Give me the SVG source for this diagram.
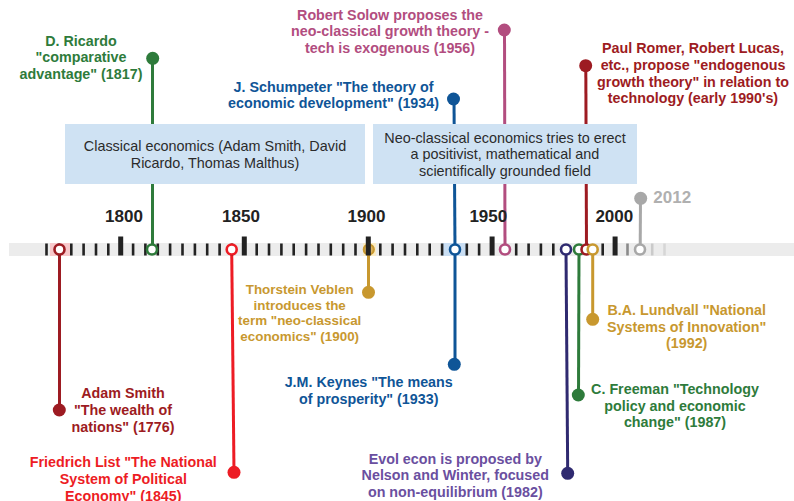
<svg xmlns="http://www.w3.org/2000/svg" width="794" height="501" viewBox="0 0 794 501">
  <style>
    .lbl { font-family: "Liberation Sans", Arial, sans-serif; font-weight: bold; font-size: 14.3px; text-anchor: middle; }
    .box { fill: #cfe2f3; }
    .boxtxt { font-family: "Liberation Sans", Arial, sans-serif; font-size: 14.4px; fill: #2b2b2b; text-anchor: middle; }
    .year { font-family: "Liberation Sans", Arial, sans-serif; font-weight: bold; font-size: 17px; fill: #222; text-anchor: middle; }
    .tick { fill: #222; }
    .ring { fill: #fff; stroke-width: 2.6; }
    .conn { stroke-width: 3; fill: none; }
    .green { fill: #2e7b3b; } .s-green { stroke: #2e7b3b; }
    .pink { fill: #b24d7f; } .s-pink { stroke: #b24d7f; }
    .blue { fill: #0f5597; } .s-blue { stroke: #0f5597; }
    .dred { fill: #9d1b22; } .s-dred { stroke: #9d1b22; }
    .red { fill: #ed1c24; } .s-red { stroke: #ed1c24; }
    .gold { fill: #c8982f; } .s-gold { stroke: #c8982f; }
    .purple { fill: #2f2a70; } .s-purple { stroke: #2f2a70; }
    .ptxt { fill: #6a4fa0; }
    .gray { fill: #a8a8a8; } .s-gray { stroke: #a8a8a8; }
  </style>

  <!-- timeline bar and period highlights -->
  <g id="timeline-bar">
    <rect x="9" y="243" width="785" height="13" fill="#ececec"/>
    <rect x="50" y="243" width="20" height="13" fill="#f7c8cb"/>
    <rect x="363" y="243" width="13" height="13" fill="#fbecc4"/>
    <rect x="441.7" y="243" width="25" height="13" fill="#c9def3"/>
  </g>

  <!-- connectors from the bar to each event -->
  <g id="connectors">
    <line class="conn s-dred" x1="59.5" y1="250" x2="59.5" y2="410"/>
    <line class="conn s-green" x1="152.5" y1="58" x2="152.5" y2="249"/>
    <line class="conn s-red" x1="231.7" y1="250" x2="234" y2="472"/>
    <line class="conn s-gold" x1="368.5" y1="250" x2="368.5" y2="292"/>
    <line class="conn s-blue" x1="455" y1="250" x2="455" y2="364"/>
    <line class="conn s-blue" x1="454" y1="99" x2="455" y2="249"/>
    <line class="conn s-pink" x1="504.5" y1="30" x2="505" y2="249"/>
    <line class="conn s-purple" x1="566" y1="250" x2="567.7" y2="473"/>
    <line class="conn s-green" x1="579" y1="250" x2="578.5" y2="395"/>
    <line class="conn s-dred" x1="585.8" y1="65" x2="586.5" y2="249"/>
    <line class="conn s-gold" x1="592.7" y1="250" x2="592.7" y2="319"/>
    <line class="conn s-gray" x1="640.5" y1="198" x2="640.2" y2="249"/>
  </g>

  <!-- period boxes -->
  <g id="classical">
    <rect class="box" x="65" y="124" width="300" height="60"/>
    <text class="boxtxt" x="215" y="151">Classical economics (Adam Smith, David</text>
    <text class="boxtxt" x="215" y="167.7">Ricardo, Thomas Malthus)</text>
  </g>
  <g id="neoclassical">
    <rect class="box" x="373" y="124" width="264" height="60"/>
    <text class="boxtxt" x="505" y="142.7">Neo-classical economics tries to erect</text>
    <text class="boxtxt" x="505" y="159.3">a positivist, mathematical and</text>
    <text class="boxtxt" x="505" y="176">scientifically grounded field</text>
  </g>

  <!-- Veblen marker sits under the 1900 tick -->
  <g id="veblen">
    <circle cx="368.8" cy="249.5" r="5" fill="#d9b466" stroke="#c8982f" stroke-width="2.2"/>
    <circle class="gold" cx="368.5" cy="292.3" r="6.5"/>
    <g class="lbl gold" style="font-size:13.4px">
      <text x="299.7" y="294">Thorstein Veblen</text>
      <text x="299.7" y="309.7">introduces the</text>
      <text x="299.7" y="325.4">term "neo-classical</text>
      <text x="299.7" y="341">economics" (1900)</text>
    </g>
  </g>

  <!-- five-year ticks -->
  <g id="ticks">
    <rect class="tick" x="45.2" y="243.5" width="2.6" height="12"/>
    <rect class="tick" x="57.6" y="243.5" width="2.6" height="12"/>
    <rect class="tick" x="70" y="243.5" width="2.6" height="12"/>
    <rect class="tick" x="82.3" y="243.5" width="2.6" height="12"/>
    <rect class="tick" x="94.7" y="243.5" width="2.6" height="12"/>
    <rect class="tick" x="107" y="243.5" width="2.6" height="12"/>
    <rect class="tick" x="118.2" y="236.5" width="5" height="19"/>
    <rect class="tick" x="131.8" y="243.5" width="2.6" height="12"/>
    <rect class="tick" x="144.1" y="243.5" width="2.6" height="12"/>
    <rect class="tick" x="156.5" y="243.5" width="2.6" height="12"/>
    <rect class="tick" x="168.8" y="243.5" width="2.6" height="12"/>
    <rect class="tick" x="181.2" y="243.5" width="2.6" height="12"/>
    <rect class="tick" x="193.6" y="243.5" width="2.6" height="12"/>
    <rect class="tick" x="205.9" y="243.5" width="2.6" height="12"/>
    <rect class="tick" x="218.3" y="243.5" width="2.6" height="12"/>
    <rect class="tick" x="230.6" y="243.5" width="2.6" height="12"/>
    <rect class="tick" x="241.8" y="236.5" width="5" height="19"/>
    <rect class="tick" x="255.4" y="243.5" width="2.6" height="12"/>
    <rect class="tick" x="267.7" y="243.5" width="2.6" height="12"/>
    <rect class="tick" x="280.1" y="243.5" width="2.6" height="12"/>
    <rect class="tick" x="292.4" y="243.5" width="2.6" height="12"/>
    <rect class="tick" x="304.8" y="243.5" width="2.6" height="12"/>
    <rect class="tick" x="317.2" y="243.5" width="2.6" height="12"/>
    <rect class="tick" x="329.5" y="243.5" width="2.6" height="12"/>
    <rect class="tick" x="341.9" y="243.5" width="2.6" height="12"/>
    <rect class="tick" x="354.2" y="243.5" width="2.6" height="12"/>
    <rect class="tick" x="365.8" y="236.5" width="5" height="19"/>
    <rect class="tick" x="379" y="243.5" width="2.6" height="12"/>
    <rect class="tick" x="391.3" y="243.5" width="2.6" height="12"/>
    <rect class="tick" x="403.7" y="243.5" width="2.6" height="12"/>
    <rect class="tick" x="416" y="243.5" width="2.6" height="12"/>
    <rect class="tick" x="428.4" y="243.5" width="2.6" height="12"/>
    <rect class="tick" x="440.8" y="243.5" width="2.6" height="12"/>
    <rect class="tick" x="465.5" y="243.5" width="2.6" height="12"/>
    <rect class="tick" x="477.8" y="243.5" width="2.6" height="12"/>
    <rect class="tick" x="489.6" y="236.5" width="5" height="19"/>
    <rect class="tick" x="514.9" y="243.5" width="2.6" height="12"/>
    <rect class="tick" x="527.3" y="243.5" width="2.6" height="12"/>
    <rect class="tick" x="539.6" y="243.5" width="2.6" height="12"/>
    <rect class="tick" x="552" y="243.5" width="2.6" height="12"/>
    <rect class="tick" x="601.4" y="243.5" width="2.6" height="12"/>
    <rect class="tick" x="612.6" y="236.5" width="5" height="19"/>
    <rect x="626.2" y="243.5" width="2.6" height="12" fill="#8a8a8a"/>
    <rect x="650.9" y="243.5" width="2.6" height="12" fill="#cacaca"/>
    <rect x="663.2" y="243.5" width="2.6" height="12" fill="#d6d6d6"/>
  </g>

  <!-- events -->
  <g id="adam-smith">
    <circle class="ring s-dred" cx="59.5" cy="249.5" r="5"/>
    <circle class="dred" cx="59.3" cy="410" r="6.5"/>
    <g class="lbl dred">
      <text x="123" y="398.3">Adam Smith</text>
      <text x="123" y="415">"The wealth of</text>
      <text x="123" y="431.7">nations" (1776)</text>
    </g>
  </g>

  <g id="ricardo">
    <circle class="ring s-green" cx="152" cy="249.5" r="5"/>
    <circle class="green" cx="152.7" cy="58.3" r="6.5"/>
    <g class="lbl green">
      <text x="81" y="45.7">D. Ricardo</text>
      <text x="81" y="62.3">"comparative</text>
      <text x="81" y="79">advantage" (1817)</text>
    </g>
  </g>

  <g id="list">
    <circle class="ring s-red" cx="231.7" cy="249.5" r="5"/>
    <circle class="red" cx="234" cy="472.3" r="6.5"/>
    <g class="lbl red">
      <text x="123.3" y="467.3">Friedrich List "The National</text>
      <text x="123.3" y="484">System of Political</text>
      <text x="123.3" y="500.7">Economy" (1845)</text>
    </g>
  </g>

  <g id="keynes-schumpeter">
    <circle class="ring s-blue" cx="455" cy="249.5" r="5"/>
    <circle class="blue" cx="454.3" cy="364.3" r="6.5"/>
    <circle class="blue" cx="453.5" cy="99" r="6.5"/>
    <g class="lbl blue">
      <text x="368.7" y="387.3">J.M. Keynes "The means</text>
      <text x="368.7" y="403.8">of prosperity" (1933)</text>
      <text x="333.5" y="91.7">J. Schumpeter "The theory of</text>
      <text x="333.5" y="108.3">economic development" (1934)</text>
    </g>
  </g>

  <g id="solow">
    <circle class="ring s-pink" cx="505" cy="249.5" r="5"/>
    <circle class="pink" cx="504.3" cy="30" r="6.5"/>
    <g class="lbl pink">
      <text x="390" y="19.7">Robert Solow proposes the</text>
      <text x="390" y="36.3">neo-classical growth theory -</text>
      <text x="390" y="53">tech is exogenous (1956)</text>
    </g>
  </g>

  <g id="nelson-winter">
    <circle class="ring s-purple" cx="566" cy="249.5" r="5"/>
    <circle class="purple" cx="567.7" cy="473.3" r="6.5"/>
    <g class="lbl ptxt">
      <text x="455.3" y="464">Evol econ is proposed by</text>
      <text x="455.3" y="480.3">Nelson and Winter, focused</text>
      <text x="455.3" y="496.6">on non-equilibrium (1982)</text>
    </g>
  </g>

  <g id="freeman">
    <circle class="ring s-green" cx="579" cy="249.5" r="5"/>
    <circle class="green" cx="578.3" cy="395" r="6.5"/>
    <g class="lbl green">
      <text x="675" y="394.3">C. Freeman "Technology</text>
      <text x="675" y="410.6">policy and economic</text>
      <text x="675" y="426.9">change" (1987)</text>
    </g>
  </g>

  <g id="romer-lucas">
    <circle class="ring s-dred" cx="586.5" cy="249.5" r="5"/>
    <circle class="dred" cx="585.7" cy="65.7" r="6.5"/>
    <g class="lbl dred">
      <text x="693" y="53.3">Paul Romer, Robert Lucas,</text>
      <text x="693" y="70">etc., propose "endogenous</text>
      <text x="693" y="86.7">growth theory" in relation to</text>
      <text x="693" y="103.3">technology (early 1990's)</text>
    </g>
  </g>

  <g id="lundvall">
    <circle class="ring s-gold" cx="592.7" cy="249.5" r="5"/>
    <circle class="gold" cx="592.7" cy="319.3" r="6.5"/>
    <g class="lbl gold">
      <text x="686.7" y="315">B.A. Lundvall "National</text>
      <text x="686.7" y="331.7">Systems of Innovation"</text>
      <text x="686.7" y="348">(1992)</text>
    </g>
  </g>

  <g id="now-2012">
    <circle class="ring s-gray" cx="640" cy="249.5" r="5"/>
    <circle class="gray" cx="640.7" cy="198.3" r="6.5"/>
    <text class="year" x="653.3" y="203.3" style="text-anchor:start;fill:#b0b0b0">2012</text>
  </g>

  <!-- year labels -->
  <g id="years">
    <text class="year" x="124" y="221.7">1800</text>
    <text class="year" x="241" y="221.7">1850</text>
    <text class="year" x="366.5" y="221.7">1900</text>
    <text class="year" x="488.3" y="221.7">1950</text>
    <text class="year" x="614.3" y="221.7">2000</text>
  </g>
</svg>
